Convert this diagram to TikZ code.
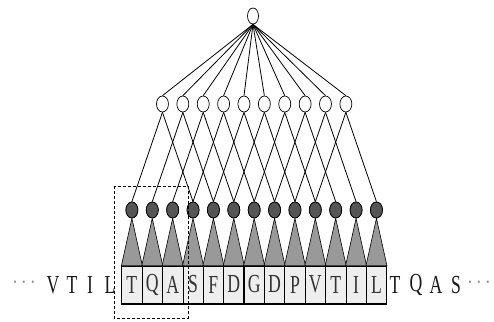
\documentclass[tikz,border=0pt]{standalone}
\usepackage{fontspec}
\setmainfont{Liberation Serif}
\usetikzlibrary{shapes.geometric}
\definecolor{cellfill}{HTML}{EEEEEE}
\definecolor{trifill}{HTML}{999999}
\definecolor{darknode}{HTML}{555555}
\begin{document}
\begin{tikzpicture}[x=1pt,y=-1pt,
  top/.style={ellipse,draw,fill=white,minimum width=11pt,minimum height=16pt,inner sep=0pt,line width=0.7pt},
  hid/.style={ellipse,draw,fill=white,minimum width=12pt,minimum height=16pt,inner sep=0pt,line width=0.7pt},
  dark/.style={ellipse,draw,fill=darknode,minimum width=12pt,minimum height=16pt,inner sep=0pt,line width=0.7pt},
  cell/.style={draw,fill=cellfill,minimum width=20.38pt,minimum height=37pt,inner sep=0pt,line width=0.6pt,
     font=\fontsize{26}{26}\selectfont,text=black!80},
  link/.style={line width=0.8pt},
  outer/.style={inner sep=0pt,font=\fontsize{26}{26}\selectfont,text=black!90},
  dotsl/.style={inner sep=0pt,font=\fontsize{24}{24}\selectfont,text=black!45}
  ]
\useasboundingbox (0,0) rectangle (494,321);
\def\xo{121.7}
\def\w{20.38}
% cells
\foreach \L [count=\i from 0] in {T,Q,A,S,F,D,G,D,P,V,T,I,L}{
  \node[cell] (c\i) at ({\xo+\w*(\i+0.5)},284.5) {\scalebox{0.68}[1]{\L}};
}
\draw[line width=1.6pt] (c6.north west) rectangle (c6.south east);
\draw[line width=2.2pt] ([yshift=-0.5pt]c0.south west) -- ([yshift=-0.5pt]c12.south east);
% dark nodes and triangles
\foreach \i in {0,...,12}{
  \node[dark] (d\i) at ({\xo+\w*(\i+0.5)},210) {};
  \filldraw[fill=trifill,line width=0.6pt] (d\i.south) -- (c\i.north east) -- (c\i.north west) -- cycle;
  \node[dark] at (d\i) {};
}
% hidden nodes
\foreach \i in {0,...,9}{
  \node[hid] (h\i) at ({\xo+\w*(\i+2)},104) {};
}
\node[top] (t) at (253,16) {};
\foreach \i in {0,...,9}{
  \draw[link] (t.south) -- (h\i.north);
  \pgfmathtruncatemacro{\j}{\i+3}
  \draw[link] (h\i.south) -- (d\i.north);
  \draw[link] (h\i.south) -- (d\j.north);
}
% outer sequence letters
\node[dotsl] (ld) at (24,283) {\scalebox{0.8}[1]{$\cdots$}};
\node[outer] (l1) at (53,285) {\scalebox{0.68}[1]{V}};
\node[outer] (l2) at (72,285) {\scalebox{0.68}[1]{T}};
\node[outer] (l3) at (90,285) {\scalebox{0.68}[1]{I}};
\node[outer] (l4) at (110,285) {\scalebox{0.68}[1]{L}};
\node[outer] (r1) at (395,285) {\scalebox{0.68}[1]{T}};
\node[outer] (r2) at (416,285) {\scalebox{0.68}[1]{Q}};
\node[outer] (r3) at (436,285) {\scalebox{0.68}[1]{A}};
\node[outer] (r4) at (456,285) {\scalebox{0.68}[1]{S}};
\node[dotsl] (rd) at (479,283) {\scalebox{0.8}[1]{$\cdots$}};
% dashed window
\draw[densely dashed,line width=0.7pt] (114,186) rectangle (188,318);
\end{tikzpicture}
\end{document}
